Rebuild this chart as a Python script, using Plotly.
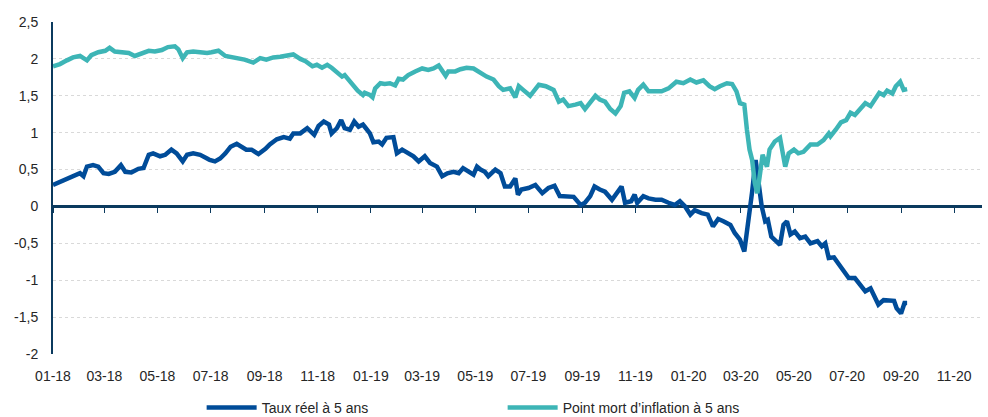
import plotly.graph_objects as go

# ---- Data ----
dates_real = [
    "2018-01-01", "2018-01-09", "2018-01-17", "2018-01-24", "2018-02-01", "2018-02-05", "2018-02-09",
    "2018-02-16", "2018-02-22", "2018-02-28", "2018-03-06", "2018-03-13", "2018-03-20", "2018-03-25",
    "2018-04-01", "2018-04-09", "2018-04-15", "2018-04-21", "2018-04-26", "2018-05-04", "2018-05-10",
    "2018-05-17", "2018-05-23", "2018-05-30", "2018-06-04", "2018-06-11", "2018-06-19", "2018-06-27",
    "2018-06-30", "2018-07-06", "2018-07-12", "2018-07-18", "2018-07-24", "2018-07-31", "2018-08-06",
    "2018-08-11", "2018-08-17", "2018-08-25", "2018-09-02", "2018-09-07", "2018-09-15", "2018-09-23",
    "2018-09-30", "2018-10-04", "2018-10-12", "2018-10-20", "2018-10-28", "2018-11-02", "2018-11-08",
    "2018-11-14", "2018-11-17", "2018-11-23", "2018-11-28", "2018-12-02", "2018-12-08", "2018-12-13",
    "2018-12-18", "2018-12-23", "2018-12-25", "2018-12-31", "2019-01-04", "2019-01-10", "2019-01-14",
    "2019-01-19", "2019-01-27", "2019-01-31", "2019-02-06", "2019-02-13", "2019-02-19", "2019-02-25",
    "2019-03-04", "2019-03-10", "2019-03-18", "2019-03-24", "2019-03-30", "2019-04-06", "2019-04-12",
    "2019-04-17", "2019-04-23", "2019-04-29", "2019-05-03", "2019-05-07", "2019-05-12", "2019-05-16",
    "2019-05-24", "2019-05-30", "2019-06-04", "2019-06-10", "2019-06-16", "2019-06-19", "2019-06-23",
    "2019-07-01", "2019-07-09", "2019-07-17", "2019-07-24", "2019-07-31", "2019-08-06", "2019-08-14",
    "2019-08-22", "2019-08-30", "2019-09-04", "2019-09-10", "2019-09-15", "2019-09-21", "2019-09-27",
    "2019-10-05", "2019-10-11", "2019-10-16", "2019-10-20", "2019-10-27", "2019-10-31", "2019-11-03",
    "2019-11-10", "2019-11-16", "2019-11-24", "2019-12-01", "2019-12-09", "2019-12-16", "2019-12-22",
    "2019-12-28", "2020-01-03", "2020-01-08", "2020-01-16", "2020-01-23", "2020-01-29", "2020-02-04",
    "2020-02-10", "2020-02-18", "2020-02-23", "2020-02-29", "2020-03-05", "2020-03-09", "2020-03-14",
    "2020-03-18", "2020-03-21", "2020-03-25", "2020-03-29", "2020-04-01", "2020-04-05", "2020-04-11",
    "2020-04-15", "2020-04-19", "2020-04-23", "2020-04-27", "2020-05-02", "2020-05-08", "2020-05-14",
    "2020-05-20", "2020-05-28", "2020-06-02", "2020-06-06", "2020-06-10", "2020-06-16", "2020-06-22",
    "2020-06-28", "2020-07-03", "2020-07-10", "2020-07-16", "2020-07-22", "2020-07-28", "2020-08-02",
    "2020-08-06", "2020-08-12", "2020-08-18", "2020-08-24", "2020-08-27", "2020-09-01", "2020-09-05",
    "2020-09-08",
]
real_5y = [
    0.29, 0.33, 0.37, 0.41, 0.45, 0.41, 0.54,
    0.56, 0.54, 0.45, 0.44, 0.47, 0.56, 0.47,
    0.46, 0.51, 0.52, 0.70, 0.72, 0.68, 0.70,
    0.77, 0.72, 0.61, 0.70, 0.72, 0.70, 0.65,
    0.63, 0.61, 0.65, 0.72, 0.81, 0.85, 0.81,
    0.77, 0.77, 0.71, 0.78, 0.84, 0.91, 0.94,
    0.92, 0.99, 0.99, 1.06, 0.97, 1.09, 1.15,
    1.11, 0.99, 1.06, 1.17, 1.06, 1.04, 1.15,
    1.08, 1.11, 1.08, 0.99, 0.87, 0.88, 0.84,
    0.93, 0.94, 0.72, 0.77, 0.73, 0.68, 0.61,
    0.68, 0.59, 0.54, 0.41, 0.45, 0.47, 0.45,
    0.52, 0.47, 0.43, 0.54, 0.50, 0.47, 0.41,
    0.50, 0.45, 0.27, 0.27, 0.38, 0.16, 0.23,
    0.25, 0.29, 0.18, 0.25, 0.28, 0.14, 0.14,
    0.13, 0.02, 0.05, 0.14, 0.27, 0.23, 0.20,
    0.09, 0.18, 0.27, 0.05, 0.07, 0.16, 0.05,
    0.14, 0.11, 0.09, 0.09, 0.05, 0.02, 0.07,
    0.00, -0.11, -0.05, -0.09, -0.11, -0.27, -0.17,
    -0.20, -0.25, -0.36, -0.45, -0.61, -0.27, 0.20,
    0.63, 0.36, 0.00, -0.20, -0.18, -0.41, -0.47,
    -0.52, -0.25, -0.20, -0.38, -0.34, -0.43, -0.41,
    -0.50, -0.47, -0.54, -0.50, -0.70, -0.69, -0.79,
    -0.88, -0.97, -0.97, -1.06, -1.15, -1.11, -1.22,
    -1.33, -1.27, -1.27, -1.28, -1.38, -1.45, -1.31,
    -1.31,
]

dates_be = [
    "2018-01-01", "2018-01-09", "2018-01-17", "2018-01-24", "2018-02-01", "2018-02-09", "2018-02-14",
    "2018-02-22", "2018-03-02", "2018-03-07", "2018-03-13", "2018-03-21", "2018-03-29", "2018-04-05",
    "2018-04-13", "2018-04-21", "2018-04-28", "2018-05-06", "2018-05-13", "2018-05-21", "2018-05-25",
    "2018-05-30", "2018-06-04", "2018-06-11", "2018-06-19", "2018-06-27", "2018-07-02", "2018-07-10",
    "2018-07-18", "2018-07-26", "2018-08-02", "2018-08-09", "2018-08-19", "2018-08-27", "2018-09-03",
    "2018-09-11", "2018-09-19", "2018-09-27", "2018-10-04", "2018-10-12", "2018-10-18", "2018-10-26",
    "2018-10-31", "2018-11-06", "2018-11-12", "2018-11-17", "2018-11-23", "2018-11-29", "2018-12-02",
    "2018-12-06", "2018-12-12", "2018-12-17", "2018-12-23", "2018-12-25", "2018-12-31", "2019-01-03",
    "2019-01-06", "2019-01-12", "2019-01-17", "2019-01-23", "2019-01-29", "2019-02-02", "2019-02-07",
    "2019-02-13", "2019-02-21", "2019-03-01", "2019-03-08", "2019-03-14", "2019-03-20", "2019-03-28",
    "2019-03-31", "2019-04-08", "2019-04-14", "2019-04-21", "2019-04-29", "2019-05-07", "2019-05-14",
    "2019-05-22", "2019-05-28", "2019-06-02", "2019-06-10", "2019-06-16", "2019-06-20", "2019-06-25",
    "2019-07-03", "2019-07-13", "2019-07-21", "2019-07-30", "2019-08-05", "2019-08-10", "2019-08-16",
    "2019-08-24", "2019-08-30", "2019-09-04", "2019-09-10", "2019-09-16", "2019-09-21", "2019-09-27",
    "2019-10-03", "2019-10-09", "2019-10-15", "2019-10-19", "2019-10-25", "2019-10-31", "2019-11-04",
    "2019-11-10", "2019-11-16", "2019-11-24", "2019-12-01", "2019-12-09", "2019-12-18", "2019-12-26",
    "2020-01-03", "2020-01-10", "2020-01-18", "2020-01-25", "2020-01-31", "2020-02-06", "2020-02-14",
    "2020-02-20", "2020-02-25", "2020-02-29", "2020-03-05", "2020-03-08", "2020-03-11", "2020-03-14",
    "2020-03-17", "2020-03-20", "2020-03-23", "2020-03-26", "2020-03-31", "2020-04-03", "2020-04-09",
    "2020-04-15", "2020-04-21", "2020-04-25", "2020-05-01", "2020-05-06", "2020-05-12", "2020-05-20",
    "2020-05-28", "2020-06-04", "2020-06-10", "2020-06-12", "2020-06-18", "2020-06-24", "2020-06-30",
    "2020-07-05", "2020-07-10", "2020-07-16", "2020-07-22", "2020-07-28", "2020-08-02", "2020-08-07",
    "2020-08-12", "2020-08-16", "2020-08-22", "2020-08-26", "2020-08-31", "2020-09-04", "2020-09-08",
]
breakeven_5y = [
    1.90, 1.93, 1.98, 2.02, 2.04, 1.98, 2.05,
    2.09, 2.11, 2.15, 2.10, 2.09, 2.08, 2.04,
    2.08, 2.11, 2.10, 2.12, 2.16, 2.17, 2.13,
    2.01, 2.09, 2.10, 2.09, 2.08, 2.09, 2.11,
    2.04, 2.02, 2.01, 1.99, 1.95, 2.01, 1.99,
    2.02, 2.03, 2.05, 2.06, 2.00, 1.97, 1.90,
    1.92, 1.88, 1.92, 1.88, 1.81, 1.76, 1.78,
    1.72, 1.63, 1.57, 1.51, 1.54, 1.51, 1.48,
    1.60, 1.67, 1.66, 1.67, 1.64, 1.73, 1.72,
    1.78, 1.83, 1.87, 1.85, 1.87, 1.91, 1.77,
    1.83, 1.83, 1.86, 1.88, 1.87, 1.81, 1.76,
    1.72, 1.63, 1.58, 1.60, 1.48, 1.63, 1.58,
    1.50, 1.65, 1.63, 1.58, 1.42, 1.45, 1.36,
    1.38, 1.40, 1.32, 1.42, 1.50, 1.45, 1.42,
    1.32, 1.26, 1.36, 1.54, 1.56, 1.47, 1.58,
    1.65, 1.56, 1.56, 1.56, 1.60, 1.69, 1.67,
    1.72, 1.68, 1.71, 1.63, 1.59, 1.63, 1.67,
    1.66, 1.56, 1.40, 1.38, 1.04, 0.77, 0.63,
    0.32, 0.18, 0.50, 0.70, 0.54, 0.77, 0.88,
    0.93, 0.54, 0.72, 0.77, 0.72, 0.74, 0.84,
    0.84, 0.90, 0.99, 0.95, 1.04, 1.14, 1.17,
    1.27, 1.24, 1.31, 1.40, 1.36, 1.45, 1.54,
    1.51, 1.57, 1.53, 1.63, 1.69, 1.58, 1.59,
]

y_tickvals = [-2, -1.5, -1, -0.5, 0, 0.5, 1, 1.5, 2, 2.5]
y_ticktext = ["-2", "-1,5", "-1", "-0,5", "0", "0,5", "1", "1,5", "2", "2,5"]

name_real = "Taux réel à 5 ans"
name_be = "Point mort d’inflation à 5 ans"

# ---- Styles ----
BLUE = "#004C99"
CYAN = "#3DB5B6"
NAVY = "#0B3A5E"
GRID = "#D9D9D9"
FONT = "Liberation Sans, Arial, sans-serif"
TXT = "#262626"
FS = 14

fig = go.Figure()
fig.add_trace(go.Scatter(x=dates_real, y=real_5y, mode="lines", name=name_real,
                         line=dict(color=BLUE, width=4.5), xaxis="x", yaxis="y"))
fig.add_trace(go.Scatter(x=dates_be, y=breakeven_5y, mode="lines", name=name_be,
                         line=dict(color=CYAN, width=4.5), xaxis="x2", yaxis="y"))

x_range = ["2018-01-01", "2020-12-03"]

fig.update_layout(
    width=988, height=417,
    margin=dict(l=53, r=6, t=22, b=63, autoexpand=False),
    paper_bgcolor="white", plot_bgcolor="white",
    font=dict(family=FONT, size=FS, color=TXT),
    showlegend=True,
    legend=dict(orientation="h", x=0.160, xanchor="left", xref="paper",
                y=(417 - 408) / 417, yanchor="middle", yref="container",
                font=dict(size=FS, color=TXT), itemwidth=50,
                entrywidth=236, entrywidthmode="pixels", bgcolor="rgba(0,0,0,0)"),
    xaxis=dict(
        type="date", range=x_range, anchor="free", position=4/9,
        showline=True, linecolor=NAVY, linewidth=2.5,
        ticks="outside", ticklen=5, tickwidth=1.2, tickcolor=NAVY,
        tick0="2018-01-01", dtick="M2",
        showticklabels=False, showgrid=False, zeroline=False, layer="below traces",
        automargin=False,
    ),
    xaxis2=dict(
        type="date", matches="x", overlaying="x", anchor="y", side="bottom",
        tick0="2018-01-01", dtick="M2", tickformat="%m-%y",
        showline=False, ticks="", showgrid=False, zeroline=False,
        tickfont=dict(size=FS, color=TXT), ticklabelstandoff=12, automargin=False,
    ),
    yaxis=dict(
        range=[-2, 2.5], tickvals=y_tickvals, ticktext=y_ticktext,
        showline=True, linecolor=NAVY, linewidth=2,
        ticks="", showgrid=True, gridcolor=GRID, gridwidth=1, griddash="dot",
        zeroline=False, tickfont=dict(size=FS, color=TXT), ticklabelstandoff=10,
        layer="below traces", automargin=False,
    ),
)

fig.write_html("out.html",
               config={"displayModeBar": False},
               post_script="document.body.style.margin='0';document.body.style.overflow='hidden';")
